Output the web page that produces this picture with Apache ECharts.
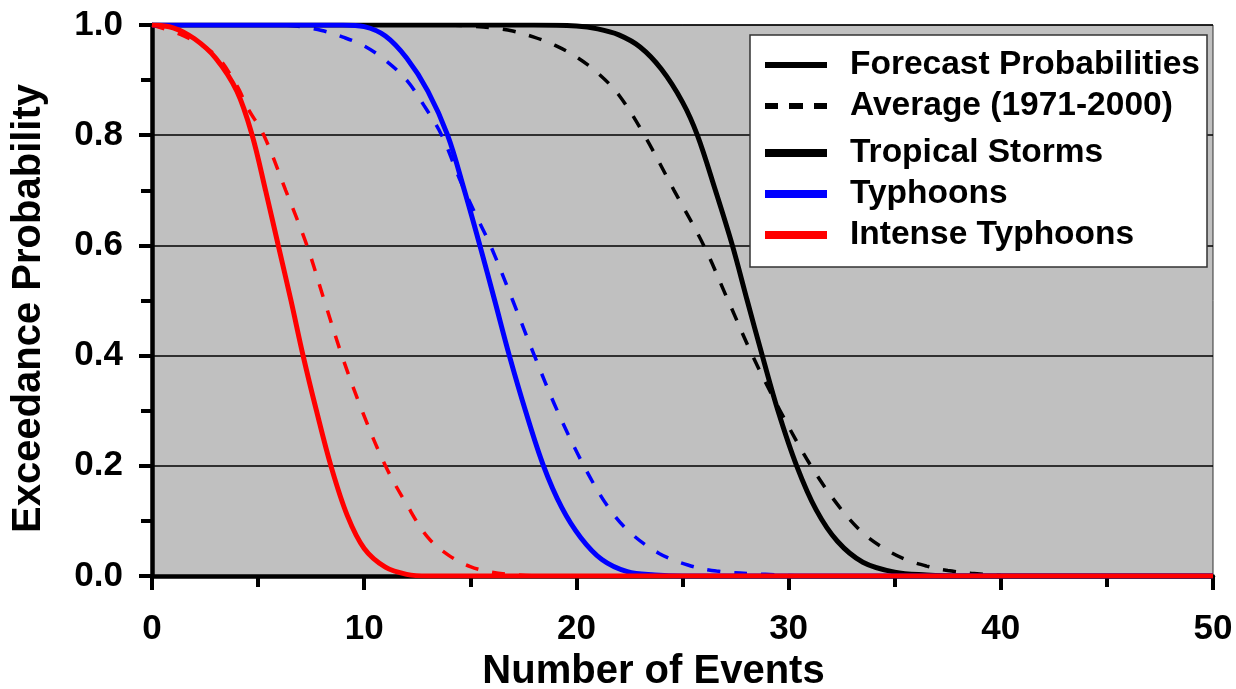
<!DOCTYPE html>
<html>
<head>
<meta charset="utf-8">
<script src="https://cdn.jsdelivr.net/npm/echarts@6/dist/echarts.min.js"></script>
<style>
  html, body { margin: 0; padding: 0; background: #fff; }
  #chart { width: 1236px; height: 689px; }
</style>
</head>
<body>
<div id="chart"></div>
<script>
// Exceedance probability curves: [number of events, probability]
const tropicalForecast = [[0,1],[18,1],[20,0.998],[21,0.993],[22,0.982],[23,0.96],[24,0.92],[25,0.86],[25.7,0.8],[26.55,0.7],[27.35,0.6],[28.05,0.5],[28.76,0.4],[29.5,0.3],[30.38,0.2],[31.3,0.12],[32.3,0.063],[33.5,0.025],[35,0.007],[36.5,0.002],[38,0],[50,0]];
const tropicalAverage = [[0,1],[14,1],[15,0.998],[16,0.995],[17,0.989],[18,0.978],[19,0.963],[20,0.942],[21,0.913],[22,0.873],[23.2,0.8],[24.6,0.7],[26.0,0.6],[27.15,0.5],[28.3,0.4],[29.6,0.3],[31.05,0.2],[32.4,0.125],[33.5,0.078],[34.5,0.05],[35.5,0.03],[36.5,0.018],[37.5,0.01],[38.6,0.005],[40,0.001],[41,0],[50,0]];
const typhoonForecast = [[0,1],[9,1],[10,0.997],[11,0.98],[12,0.94],[13,0.88],[13.93,0.8],[14.72,0.7],[15.45,0.6],[16.15,0.5],[16.84,0.4],[17.6,0.3],[18.45,0.2],[19.3,0.125],[20.2,0.07],[21.2,0.03],[22.4,0.008],[23.7,0.002],[25,0],[50,0]];
const typhoonAverage = [[0,1],[6,1],[7,0.997],[8,0.99],[9,0.978],[10,0.962],[11,0.936],[12,0.9],[12.8,0.855],[13.65,0.8],[14.5,0.72],[15.2,0.66],[15.95,0.6],[17.0,0.5],[18.02,0.4],[19.1,0.3],[20.35,0.2],[21.5,0.125],[22.5,0.08],[23.9,0.041],[25.25,0.02],[26.6,0.009],[28.9,0.003],[31,0],[50,0]];
const intenseForecast = [[0,1],[1,0.995],[2,0.975],[3,0.94],[4,0.88],[4.72,0.8],[5.35,0.7],[5.95,0.6],[6.55,0.5],[7.12,0.4],[7.75,0.3],[8.43,0.2],[9.2,0.11],[10,0.05],[11,0.016],[12,0.003],[13,0],[50,0]];
const intenseAverage = [[0,1],[1.5,0.98],[3,0.945],[4,0.89],[4.5,0.85],[5.27,0.8],[6.3,0.7],[7.3,0.6],[8.12,0.5],[8.95,0.4],[9.9,0.3],[11.0,0.2],[12.0,0.13],[13,0.07],[14,0.037],[15,0.017],[16,0.007],[17.2,0.002],[18.5,0],[50,0]];

const styleNames = ['Forecast Probabilities', 'Average (1971-2000)'];
const categoryNames = ['Tropical Storms', 'Typhoons', 'Intense Typhoons'];
const xTitle = 'Number of Events';
const yTitle = 'Exceedance Probability';

const FONT = 'Liberation Sans, Arial, sans-serif';
const DASH = [13, 14];

function curve(name, data, color, dashed) {
  return {
    name: name,
    type: 'line',
    data: data,
    symbol: 'none',
    smooth: 0.35,
    color: color,
    lineStyle: dashed ? { color: color, width: 3.5, type: DASH } : { color: color, width: 5 },
    z: dashed ? 3 : 4,
    silent: true
  };
}

const chart = echarts.init(document.getElementById('chart'), null, { renderer: 'canvas' });

chart.setOption({
  animation: false,
  backgroundColor: '#ffffff',
  grid: {
    left: 152, right: 23, top: 25, bottom: 113,
    outerBoundsMode: 'none',
    show: true,
    backgroundColor: '#c0c0c0',
    borderColor: '#333333',
    borderWidth: 1
  },
  xAxis: {
    type: 'value',
    min: 0, max: 50, interval: 10,
    name: xTitle,
    nameLocation: 'middle',
    nameGap: 74,
    nameTextStyle: { fontFamily: FONT, fontSize: 40, fontWeight: 'bold', color: '#000', padding: [0, 58, 0, 0] },
    axisLine: { show: true, onZero: false, lineStyle: { color: '#000', width: 4.5 } },
    axisTick: { show: true, inside: false, length: 14, lineStyle: { color: '#000', width: 4 } },
    minorTick: { show: true, splitNumber: 2, length: 11, lineStyle: { color: '#000', width: 4 } },
    axisLabel: { margin: 36, fontFamily: FONT, fontSize: 35, fontWeight: 'bold', color: '#000' },
    splitLine: { show: false }
  },
  yAxis: {
    type: 'value',
    min: 0, max: 1, interval: 0.2,
    name: yTitle,
    nameLocation: 'middle',
    nameGap: 103,
    nameTextStyle: { fontFamily: FONT, fontSize: 40, fontWeight: 'bold', color: '#000', padding: [0, 16, 0, 0] },
    axisLine: { show: true, onZero: false, lineStyle: { color: '#000', width: 4.5 } },
    axisTick: { show: true, length: 13, lineStyle: { color: '#000', width: 4 } },
    minorTick: { show: true, splitNumber: 2, length: 11, lineStyle: { color: '#000', width: 4 } },
    axisLabel: {
      margin: 29, fontFamily: FONT, fontSize: 35, fontWeight: 'bold', color: '#000',
      formatter: v => v.toFixed(1)
    },
    splitLine: { show: true, lineStyle: { color: '#000', width: 1.5 } }
  },
  graphic: [{
    type: 'rect',
    z: 10,
    shape: { x: 750, y: 35, width: 457, height: 232 },
    style: { fill: '#ffffff', stroke: '#333333', lineWidth: 1.5 }
  }],
  legend: [
    {
      z: 20,
      orient: 'vertical',
      left: 765, top: 48,
      padding: 0,
      itemWidth: 62, itemHeight: 6,
      itemGap: 7,
      selectedMode: false,
      textStyle: { fontFamily: FONT, fontSize: 33.5, fontWeight: 'bold', color: '#000', lineHeight: 33, padding: [0, 0, 0, 18] },
      data: [
        { name: styleNames[0], icon: 'rect' },
        { name: styleNames[1], icon: 'path://M0,0h13v6h-13z M24,0h14v6h-14z M49,0h13v6h-13z' }
      ]
    },
    {
      z: 20,
      orient: 'vertical',
      left: 765, top: 136,
      padding: 0,
      itemWidth: 62, itemHeight: 8,
      itemGap: 7,
      selectedMode: false,
      textStyle: { fontFamily: FONT, fontSize: 33.5, fontWeight: 'bold', color: '#000', lineHeight: 33, padding: [0, 0, 0, 18] },
      data: categoryNames.map(n => ({ name: n, icon: 'rect' }))
    }
  ],
  series: [
    { name: styleNames[0], type: 'line', data: [], color: '#000', lineStyle: { color: '#000' } },
    { name: styleNames[1], type: 'line', data: [], color: '#000', lineStyle: { color: '#000', type: DASH } },
    curve(categoryNames[0] + ' average', tropicalAverage, '#000000', true),
    curve(categoryNames[1] + ' average', typhoonAverage, '#0000ff', true),
    curve(categoryNames[2] + ' average', intenseAverage, '#ff0000', true),
    curve(categoryNames[0], tropicalForecast, '#000000', false),
    curve(categoryNames[1], typhoonForecast, '#0000ff', false),
    curve(categoryNames[2], intenseForecast, '#ff0000', false)
  ]
});
</script>
</body>
</html>
